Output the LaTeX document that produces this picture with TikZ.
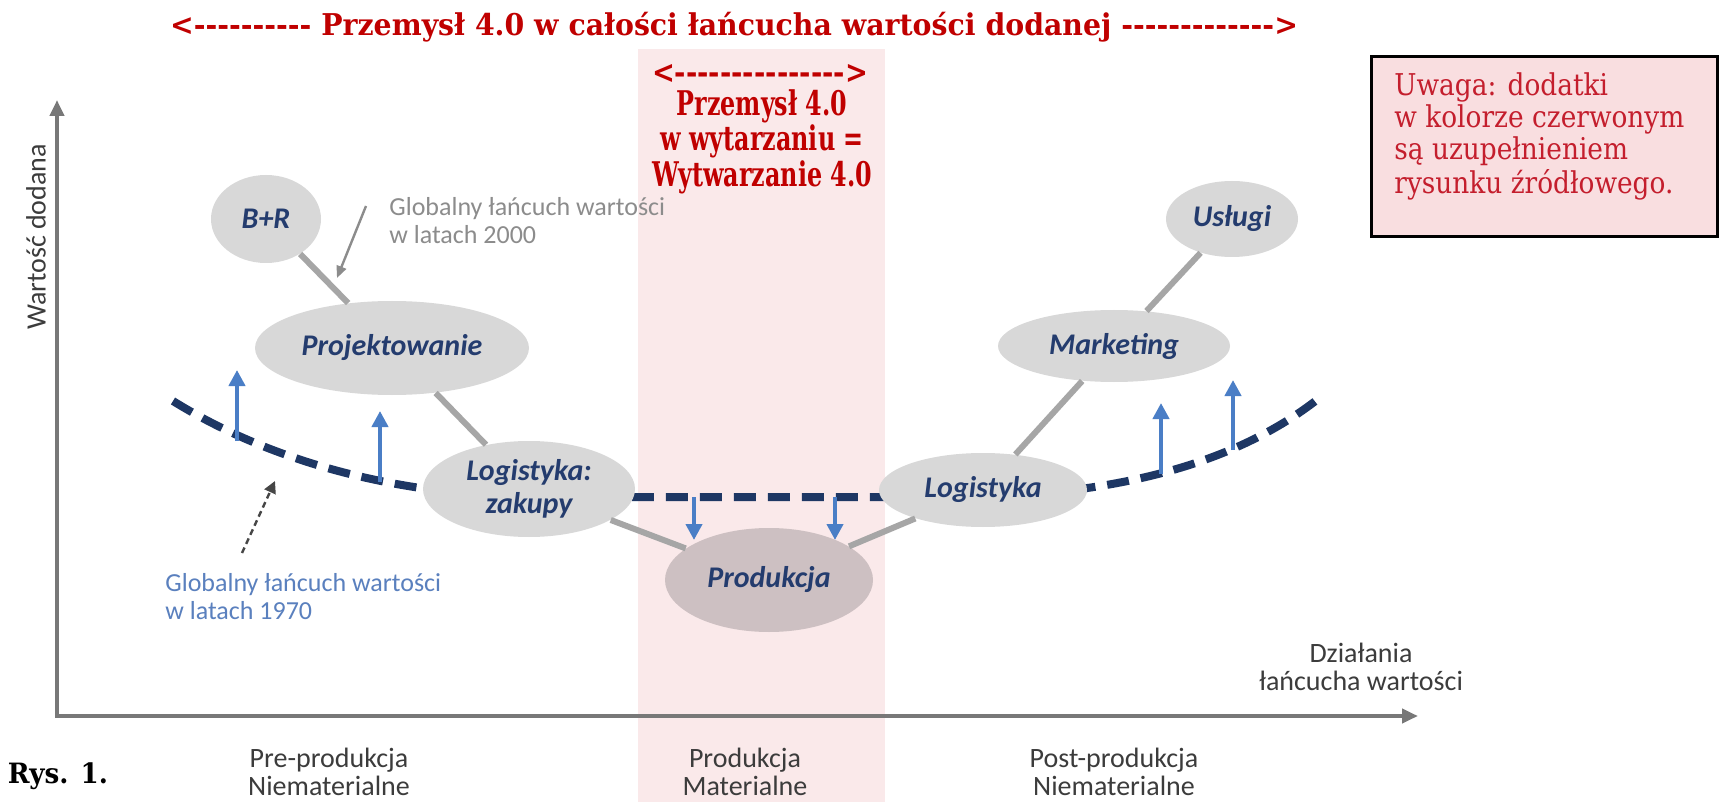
\documentclass[tikz,border=0pt]{standalone}
\usepackage{fontspec}
\usepackage{graphicx}
\setmainfont{DejaVu Serif}[Ligatures=TeXOff]
\newfontfamily\lab{Carlito}[Ligatures=TeXOff]
\usetikzlibrary{arrows.meta,shapes.geometric}
\definecolor{redt}{RGB}{192,0,0}
\definecolor{notered}{RGB}{196,30,45}
\definecolor{bandpink}{RGB}{250,233,234}
\definecolor{notepink}{RGB}{249,222,224}
\definecolor{ellgray}{RGB}{216,216,216}
\definecolor{prodgray}{RGB}{205,192,194}
\definecolor{navy}{RGB}{36,60,110}
\definecolor{dashnavy}{RGB}{30,55,100}
\definecolor{arrblue}{RGB}{74,126,198}
\definecolor{conngray}{RGB}{166,166,166}
\definecolor{axisgray}{RGB}{120,120,120}
\definecolor{labgray}{RGB}{140,140,140}
\definecolor{labblue}{RGB}{90,128,190}
\definecolor{txtgray}{RGB}{60,60,60}
\definecolor{ptrgray}{RGB}{70,70,70}
\newsavebox\fitbox
\newlength\fitlen
\newcommand\fitw[2]{\sbox\fitbox{#2}\setlength\fitlen{\wd\fitbox}\pgfmathsetmacro\fitr{#1/\fitlen}\scalebox{\fitr}[1]{\usebox\fitbox}}
\ExplSyntaxOn
\NewDocumentCommand\myrep{mm}{\prg_replicate:nn{#1}{#2}}
\ExplSyntaxOff
\begin{document}
\begin{tikzpicture}[x=0.5pt,y=-0.5pt,
  ell/.style={ellipse, fill=ellgray, inner sep=0pt, text=navy, align=center, font=\lab\bfseries\itshape\fontsize{15}{16.5}\selectfont},
  conn/.style={draw=conngray, line width=3pt},
  axisline/.style={draw=axisgray, line width=2pt},
  navydash/.style={draw=dashnavy, line width=4pt, dash pattern=on 11pt off 6pt},
  uparr/.style={draw=arrblue, line width=2pt, -{Triangle[length=8pt,width=8pt]}},
  lbl/.style={inner sep=0pt, align=center, text=txtgray, font=\lab\fontsize{14}{14}\selectfont},
  redtxt/.style={inner sep=0pt, text=redt},
  globlbl/.style={inner sep=0pt, anchor=west, align=left, font=\lab\fontsize{13}{14}\selectfont},
]
\useasboundingbox (0,0) rectangle (1719,802);
\fill[white] (0,0) rectangle (1719,802);
% pink band
\fill[bandpink] (638,49) rectangle (885,802);
% axes
\coordinate (ytip) at (57,100);
\coordinate (xtip) at (1418,716);
\draw[axisline, {Triangle[length=8pt,width=7pt]}-{Triangle[length=8pt,width=7pt]}] (ytip) |- (xtip);
% dashed value chain 1970
\coordinate (c0) at (173,401);
\coordinate (c1) at (529,497);
\coordinate (c2) at (983,497);
\coordinate (c3) at (1318,399);
\draw[navydash] (c0) .. controls (260,455) and (380,494) .. (c1) -- (c2) .. controls (1130,492) and (1240,460) .. (c3);
% ellipses
\node[ell, minimum width=55pt, minimum height=44pt] (br) at (266,219) {B+R};
\node[ell, minimum width=137pt, minimum height=47pt] (proj) at (392,348) {Projektowanie};
\node[ell, minimum width=106pt, minimum height=48pt] (logz) at (529,489) {Logistyka:\\zakupy};
\node[ell, fill=prodgray, minimum width=104pt, minimum height=52pt] (prod) at (769,580) {Produkcja};
\node[ell, minimum width=104pt, minimum height=37pt] (log) at (983,490) {Logistyka};
\node[ell, minimum width=116pt, minimum height=36pt] (mark) at (1114,346) {Marketing};
\node[ell, minimum width=66pt, minimum height=38pt] (usl) at (1232,219) {Usługi};
% connectors
\draw[conn] (br) -- (proj);
\draw[conn] (proj) -- (logz);
\draw[conn] (logz) -- (prod);
\draw[conn] (prod) -- (log);
\draw[conn] (log) -- (mark);
\draw[conn] (mark) -- (usl);
% blue arrows
\coordinate (u1b) at (237,441); \coordinate (u1t) at (237,370);
\coordinate (u2b) at (380,482); \coordinate (u2t) at (380,411);
\coordinate (d1b) at (694,497); \coordinate (d1t) at (694,540);
\coordinate (d2b) at (835,497); \coordinate (d2t) at (835,540);
\coordinate (u3b) at (1161,474); \coordinate (u3t) at (1161,403);
\coordinate (u4b) at (1233,450); \coordinate (u4t) at (1233,380);
\draw[uparr] (u1b) -- (u1t);
\draw[uparr] (u2b) -- (u2t);
\draw[uparr] (d1b) -- (d1t);
\draw[uparr] (d2b) -- (d2t);
\draw[uparr] (u3b) -- (u3t);
\draw[uparr] (u4b) -- (u4t);
% pointer arrows
\coordinate (g1s) at (366,206); \coordinate (g1e) at (337,278);
\draw[draw=labgray, line width=1.2pt, -{Triangle[length=6pt,width=5pt]}] (g1s) -- (g1e);
\coordinate (g2s) at (242,553); \coordinate (g2e) at (275,481);
\draw[draw=ptrgray, line width=1.2pt, dash pattern=on 3pt off 2pt, -{Triangle[length=6pt,width=6pt]}] (g2s) -- (g2e);
% gray / blue labels
\node[globlbl, text=labgray] (l2000) at (389,221) {Globalny łańcuch wartości\\w latach 2000};
\node[globlbl, text=labblue] (l1970) at (165,597) {Globalny łańcuch wartości\\w latach 1970};
% axis labels
\node[lbl] (pre) at (329,772) {Pre-produkcja\\Niematerialne};
\node[lbl] (prodl) at (745,772) {Produkcja\\Materialne};
\node[lbl] (post) at (1114,772) {Post-produkcja\\Niematerialne};
\node[lbl] (dzial) at (1361,667) {Działania\\łańcucha wartości};
\node[lbl, rotate=90] (wart) at (36,237) {Wartość dodana};
\node[inner sep=0pt] (rys) at (58,776) {\fitw{50pt}{\bfseries\fontsize{14}{15}\selectfont Rys. 1.}};
% red additions
\node[redtxt] (title) at (734,27) {\fitw{564pt}{\bfseries\fontsize{15}{16}\selectfont <\myrep{10}{-} Przemysł 4.0 w całości łańcucha wartości dodanej \myrep{13}{-}>}};
\node[redtxt] (barr) at (760,74) {\fitw{108pt}{\bfseries\fontsize{16}{16}\selectfont <\myrep{15}{-}>}};
\node[redtxt] (btxt) at (762,143) {\fitw{110pt}{\bfseries\fontsize{17}{16.5}\selectfont\begin{tabular}{@{}c@{}}Przemysł 4.0\\w wytarzaniu =\\Wytwarzanie 4.0\end{tabular}}};
% note box
\node[draw=black, line width=1.5pt, fill=notepink, minimum width=173pt, minimum height=90pt, anchor=north west, inner sep=0pt] (note) at (1370,55) {};
\node[anchor=north west, inner sep=0pt, text=notered] (notetxt) at (1394,72) {\fitw{145pt}{\fontsize{15}{16}\selectfont\begin{tabular}{@{}l@{}}Uwaga: dodatki\\w kolorze czerwonym\\są uzupełnieniem\\rysunku źródłowego.\end{tabular}}};
\end{tikzpicture}
\end{document}
